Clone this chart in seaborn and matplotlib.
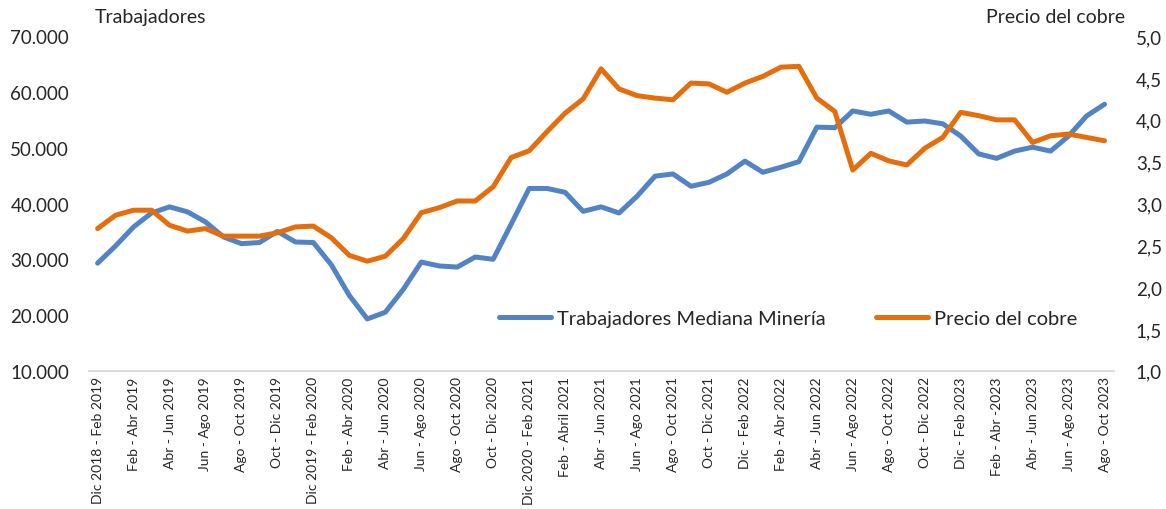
import numpy as np
import pandas as pd
import matplotlib
matplotlib.use("Agg")
import matplotlib.pyplot as plt
import seaborn as sns
from matplotlib.ticker import FuncFormatter
from matplotlib.lines import Line2D

# labels shown on the axis (every second moving quarter)
tick_labels = [
    "Dic 2018 - Feb 2019", "Feb - Abr 2019", "Abr - Jun 2019", "Jun - Ago 2019",
    "Ago - Oct 2019", "Oct - Dic 2019", "Dic 2019 - Feb 2020", "Feb - Abr 2020",
    "Abr - Jun 2020", "Jun - Ago 2020", "Ago - Oct 2020", "Oct - Dic 2020",
    "Dic 2020 - Feb 2021", "Feb - Abril 2021", "Abr - Jun 2021", "Jun - Ago 2021",
    "Ago - Oct 2021", "Oct - Dic 2021", "Dic - Feb 2022", "Feb - Abr 2022",
    "Abr - Jun 2022", "Jun - Ago 2022", "Ago - Oct 2022", "Oct - Dic 2022",
    "Dic - Feb 2023", "Feb - Abr -2023", "Abr - Jun 2023", "Jun - Ago 2023",
    "Ago - Oct 2023",
]

# workers, medium mining (monthly moving quarters)
trabajadores = [
    29300, 32400, 35800, 38300, 39400, 38500, 36700, 34000, 32800, 33000,
    35000, 33100, 33000, 29000, 23500, 19300, 20500, 24600, 29500, 28800,
    28600, 30400, 30000, 36300, 42700, 42700, 42000, 38600, 39400, 38300,
    41300, 44900, 45300, 43100, 43800, 45300, 47600, 45600, 46500, 47500,
    53700, 53600, 56600, 56000, 56600, 54600, 54800, 54300, 52100, 48900,
    48100, 49400, 50100, 49400, 52100, 55700, 57800,
]

# copper price (US$/lb)
precio_cobre = [
    2.70, 2.86, 2.92, 2.92, 2.74, 2.67, 2.70, 2.61, 2.61, 2.61,
    2.65, 2.72, 2.73, 2.59, 2.38, 2.31, 2.37, 2.58, 2.89, 2.95,
    3.03, 3.03, 3.20, 3.55, 3.63, 3.86, 4.08, 4.25, 4.61, 4.37,
    4.29, 4.26, 4.24, 4.44, 4.43, 4.33, 4.44, 4.52, 4.63, 4.64,
    4.26, 4.10, 3.40, 3.60, 3.51, 3.46, 3.66, 3.79, 4.09, 4.05,
    4.00, 4.00, 3.73, 3.81, 3.83, 3.79, 3.75,
]

blue = "#5283C4"
orange = "#E66D0C"

df = pd.DataFrame({
    "periodo": np.arange(len(trabajadores)),
    "trabajadores": trabajadores,
    "cobre": precio_cobre,
})

sns.set_style("white")
plt.rcParams["font.family"] = ["Lato", "DejaVu Sans"]

fig = plt.figure(figsize=(11.66, 5.10), dpi=100)
ax = fig.add_axes([0.076, 0.271, 0.879, 0.656])
ax2 = ax.twinx()

sns.lineplot(data=df, x="periodo", y="trabajadores", ax=ax, color=blue,
             linewidth=3.6, solid_capstyle="round", solid_joinstyle="round")
sns.lineplot(data=df, x="periodo", y="cobre", ax=ax2, color=orange,
             linewidth=3.6, solid_capstyle="round", solid_joinstyle="round")

ax.set_xlim(-0.5, len(trabajadores) - 0.5)
ax.set_ylim(10000, 70000)
ax2.set_ylim(1.0, 5.0)
ax.set_yticks(np.arange(10000, 70001, 10000))
ax2.set_yticks(np.arange(1.0, 5.01, 0.5))
ax.yaxis.set_major_formatter(FuncFormatter(lambda v, p: f"{int(v):,}".replace(",", ".")))
ax2.yaxis.set_major_formatter(FuncFormatter(lambda v, p: f"{v:.1f}".replace(".", ",")))

ax.set_xticks(np.arange(0, len(trabajadores), 2))
ax.set_xticklabels(tick_labels, rotation=90, fontsize=10)
ax.tick_params(axis="x", length=0, pad=4)
ax.tick_params(axis="y", length=0, pad=14, labelsize=13.5)
ax2.tick_params(axis="y", length=0, pad=16, labelsize=13.5)

ax.set_xlabel("")
ax.set_ylabel("")
ax2.set_ylabel("")

for a in (ax, ax2):
    for s in ["top", "left", "right", "bottom"]:
        a.spines[s].set_visible(False)
ax.spines["bottom"].set_visible(True)
ax.spines["bottom"].set_color("#D9D9D9")
ax.spines["bottom"].set_linewidth(1.3)

fig.text(0.081, 0.965, "Trabajadores", fontsize=14, va="center")
fig.text(0.965, 0.965, "Precio del cobre", fontsize=14, va="center", ha="right")

handles = [
    Line2D([], [], color=blue, linewidth=3.6, solid_capstyle="round"),
    Line2D([], [], color=orange, linewidth=3.6, solid_capstyle="round"),
]
fig.legend(handles, ["Trabajadores Mediana Minería", "Precio del cobre"],
           loc="center left", bbox_to_anchor=(0.412, 0.373), ncol=2,
           frameon=False, fontsize=14.5, handlelength=2.6, handletextpad=0.3,
           columnspacing=2.5)

fig.savefig("out.png", dpi=100)
